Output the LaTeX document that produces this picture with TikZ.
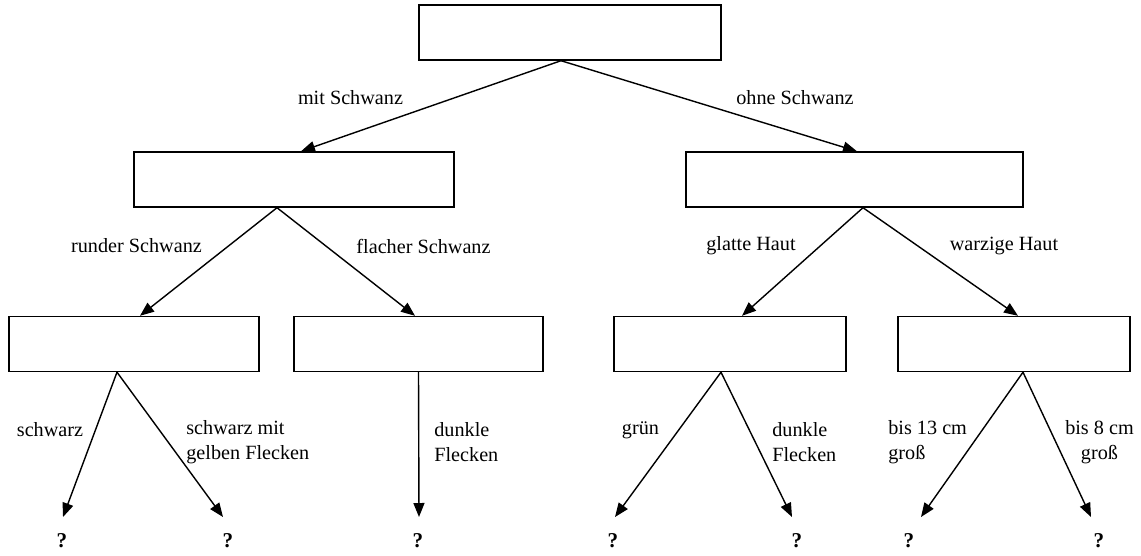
\documentclass[tikz,border=0pt]{standalone}
\usepackage{fontspec}
\setmainfont{Liberation Serif}
\usetikzlibrary{arrows.meta}
\tikzset{
	kasten/.style={draw,line width=.8pt,inner sep=0pt,minimum height=1.1cm},
	pfeil/.style={line width=.8pt,-{Triangle[length=.28cm,width=.22cm]}},
	merkmal/.style={inner sep=0pt,font=\fontsize{11.5}{14.2}\selectfont},
	frage/.style={inner sep=0pt,font=\fontsize{12}{14}\selectfont\bfseries}
}
\begin{document}
\begin{tikzpicture}
		%Bestimmungsschluessel
		\useasboundingbox (0,0)rectangle(22.82,-11.1);
		\node[kasten,minimum width=6.04cm] (wurzel) at (11.40,-.65) {};
		\node[kasten,minimum width=6.40cm] (mit) at (5.88,-3.59) {};
		\node[kasten,minimum width=6.74cm] (ohne) at (17.09,-3.59) {};
		\node[kasten,minimum width=5.00cm] (rund) at (2.68,-6.88) {};
		\node[kasten,minimum width=4.98cm] (flach) at (8.37,-6.88) {};
		\node[kasten,minimum width=4.64cm] (glatt) at (14.60,-6.88) {};
		\node[kasten,minimum width=4.64cm] (warzig) at (20.28,-6.88) {};
		% Fragezeichen und Pfeilspitzen
		\foreach \n/\x/\s in {a/1.24/1.26,b/4.56/4.46,c/8.36/8.38,d/12.26/12.30,e/15.94/15.84,f/18.18/18.42,g/21.98/21.82}{
			\node[frage] (q\n) at (\x,-10.82) {?};
			\coordinate (p\n) at (\s,-10.34);
		}
		\draw[pfeil] ([xshift=-.18cm]wurzel.south)--([xshift=.14cm]mit.north);
		\draw[pfeil] ([xshift=-.18cm]wurzel.south)--([xshift=.05cm]ohne.north);
		\draw[pfeil] ([xshift=-.34cm]mit.south)--([xshift=.12cm]rund.north);
		\draw[pfeil] ([xshift=-.34cm]mit.south)--([xshift=-.07cm]flach.north);
		\draw[pfeil] ([xshift=.17cm]ohne.south)--([xshift=.24cm]glatt.north);
		\draw[pfeil] ([xshift=.17cm]ohne.south)--([xshift=.08cm]warzig.north);
		\draw[pfeil] ([xshift=-.34cm]rund.south)--(pa);
		\draw[pfeil] ([xshift=-.34cm]rund.south)--(pb);
		\draw[pfeil] (flach.south)--(pc);
		\draw[pfeil] ([xshift=-.18cm]glatt.south)--(pd);
		\draw[pfeil] ([xshift=-.18cm]glatt.south)--(pe);
		\draw[pfeil] ([xshift=.18cm]warzig.south)--(pf);
		\draw[pfeil] ([xshift=.18cm]warzig.south)--(pg);
		\node[merkmal] (lmit) at (7.01,-1.96) {mit Schwanz};
		\node[merkmal] (lohne) at (15.90,-1.96) {ohne Schwanz};
		\node[merkmal] (lrund) at (2.73,-4.92) {runder Schwanz};
		\node[merkmal] (lflach) at (8.47,-4.92) {flacher Schwanz};
		\node[merkmal] (lglatt) at (15.02,-4.92) {glatte Haut};
		\node[merkmal] (lwarzig) at (20.08,-4.92) {warzige Haut};
		\node[merkmal] (lschwarz) at (1.00,-8.60) {schwarz};
		\node[merkmal,anchor=west,align=left] (lgelb) at (3.72,-8.85) {schwarz mit\\gelben Flecken};
		\node[merkmal,anchor=west,align=left] (ldunkel) at (8.68,-8.85) {dunkle\\Flecken};
		\node[merkmal] (lgruen) at (12.81,-8.60) {grün};
		\node[merkmal,anchor=west,align=left] (lfleck) at (15.44,-8.85) {dunkle\\Flecken};
		\node[merkmal,anchor=west,align=left] (lgross) at (17.76,-8.85) {bis 13 cm\\groß};
		\node[merkmal,align=center] (lklein) at (21.99,-8.85) {bis 8 cm\\groß};
		\end{tikzpicture}
\end{document}
